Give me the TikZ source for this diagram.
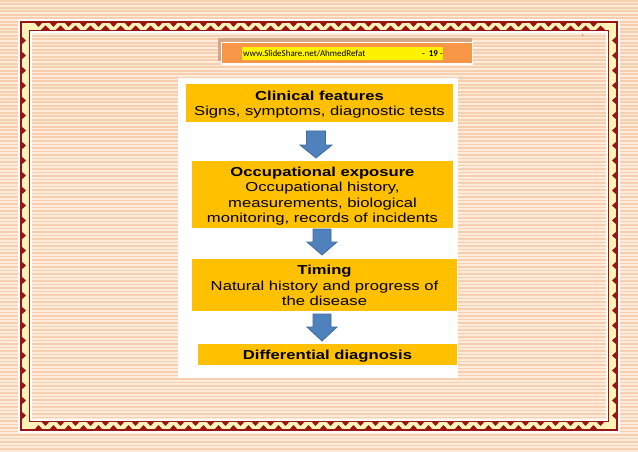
\documentclass[tikz,border=0pt]{standalone}
\usepackage{fontspec}
\setmainfont{Liberation Sans}
\newfontfamily\calib{Carlito}
\usepackage{graphicx}
\definecolor{bgpale}{HTML}{FDEBDC}
\definecolor{bgpeach}{HTML}{F8CFAE}
\definecolor{dred}{HTML}{9A1414}
\definecolor{braidcream}{HTML}{FFF3B8}
\definecolor{shadowtan}{HTML}{D4A887}
\definecolor{hdrorange}{HTML}{F79646}
\definecolor{boxfill}{HTML}{FFC000}
\definecolor{arrowfill}{HTML}{4F81BD}
\definecolor{arrowline}{HTML}{3F6C9E}
\newcommand\sx[1]{\scalebox{1.28}[1]{#1}}
\newcommand\blkarrow[6]{%
  \filldraw[arrowstyle] (#1-#5,#2) -- (#1+#5,#2) -- (#1+#5,#3) -- (#1+#6,#3)
    -- (#1,#4) -- (#1-#6,#3) -- (#1-#5,#3) -- cycle;}
\tikzset{
  box/.style={fill=boxfill, draw=none, inner sep=0pt},
  boxtext/.style={inner sep=0pt, align=center, yshift=-2pt,
    font=\fontsize{13}{15.5}\selectfont},
  arrowstyle/.style={fill=arrowfill, draw=arrowline, line width=0.8pt},
  hdrtext/.style={inner sep=0pt, font=\calib\fontsize{9}{10}\selectfont}
}
\begin{document}
\begin{tikzpicture}[x=1pt,y=-1pt]
\useasboundingbox (0,0) rectangle (638,452);
% striped background
\fill[bgpale] (0,0) rectangle (638,452);
\foreach \i in {0,...,129} \fill[bgpeach] (0,\i*3.5) rectangle (638,\i*3.5+1.8);
% frame
\draw[white, line width=1.5pt] (19,20) rectangle (619,432);
\draw[braidcream, line width=9pt] (24.5,25.5) rectangle (613.5,426.5);
\foreach \x in {34,49,...,600} {
  \fill[dred] (\x,22) -- (\x+9,22) -- (\x+4.5,27) -- cycle;
  \fill[dred] (\x+7,421) -- (\x+16,421) -- (\x+11.5,426) -- cycle;
  \fill[dred] (\x,430) -- (\x+9,430) -- (\x+4.5,425) -- cycle;
  \fill[dred] (\x+7,30) -- (\x+16,30) -- (\x+11.5,25.5) -- cycle;
}
\foreach \y in {36,51,...,415} {
  \fill[dred] (21,\y) -- (21,\y+9) -- (26,\y+4.5) -- cycle;
  \fill[dred] (617,\y) -- (617,\y+9) -- (612,\y+4.5) -- cycle;
}
\draw[dred, line width=1.6pt] (20.8,21.8) rectangle (617.2,430.2);
\draw[dred, line width=1.2pt] (29.4,30.4) rectangle (608.6,421.6);
\draw[white, line width=1.5pt] (30.9,31.9) rectangle (607.1,420.1);
\node[inner sep=0pt, font=\fontsize{3}{3}\selectfont, text=black!70] (pg) at (583,35) {1};
% header
\fill[shadowtan] (218,38) rectangle (472,43);
\fill[shadowtan] (218,38) rectangle (222,61);
\fill[white] (221,42) rectangle (473,65);
\fill[hdrorange] (222,43) rectangle (472,63);
\fill[yellow] (242,47) rectangle (443,60);
\node[hdrtext, anchor=west] (url) at (243,54) {www.SlideShare.net/AhmedRefat};
\node[hdrtext, anchor=east] (num) at (443,54) {-\hspace{4pt}\textbf{19} -};
% panel
\fill[white] (178,78) rectangle (458,378);
\node[box, minimum width=267pt, minimum height=38pt] (b1) at (319.5,103) {};
\node[box, minimum width=261pt, minimum height=67pt] (b2) at (322.5,194.5) {};
\node[box, minimum width=265pt, minimum height=52pt] (b3) at (324.5,285) {};
\node[box, minimum width=259pt, minimum height=21pt] (b4) at (327.5,354.5) {};
\node[boxtext] (t1) at (b1.center)
  {\sx{\begin{tabular}{@{}c@{}}\textbf{Clinical features}\\Signs, symptoms, diagnostic tests\end{tabular}}};
\node[boxtext] (t2) at (b2.center)
  {\sx{\begin{tabular}{@{}c@{}}\textbf{Occupational exposure}\\Occupational history,\\measurements, biological\\monitoring, records of incidents\end{tabular}}};
\node[boxtext] (t3) at (b3.center)
  {\sx{\begin{tabular}{@{}c@{}}\textbf{Timing}\\Natural history and progress of\\the disease\end{tabular}}};
\node[boxtext] (t4) at (b4.center) {\sx{\textbf{Differential diagnosis}}};
% arrows
\blkarrow{316}{131}{145}{158}{9.5}{16}
\blkarrow{322}{229}{242}{255}{9}{15}
\blkarrow{322}{314}{327}{341}{9}{15}
\end{tikzpicture}
\end{document}
